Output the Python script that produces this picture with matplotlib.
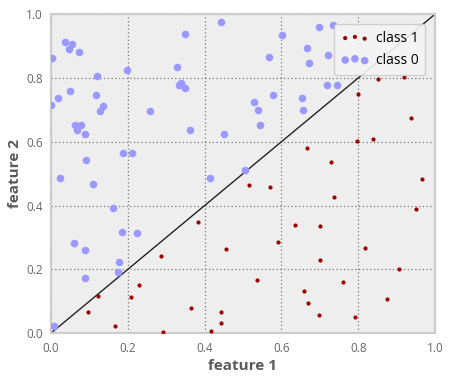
import matplotlib
matplotlib.use("Agg")
import matplotlib.pyplot as plt

class0_x = [0.004, 0.036, 0.055, 0.048, 0.072, 0.119, 0.199, 0.327, 0.350, 0.444,
            0.339, 0.334, 0.348, 0.000, 0.018, 0.050, 0.117, 0.136, 0.128, 0.257,
            0.063, 0.078, 0.068, 0.089, 0.363, 0.451, 0.188, 0.212, 0.091, 0.024,
            0.109, 0.414,
            0.602, 0.698, 0.733, 0.567, 0.666, 0.672, 0.720, 0.719, 0.745, 0.577,
            0.528, 0.539, 0.653, 0.655, 0.543, 0.504,
            0.162, 0.186, 0.225, 0.060, 0.088, 0.178, 0.175, 0.089, 0.009]
class0_y = [0.862, 0.914, 0.907, 0.890, 0.881, 0.806, 0.825, 0.835, 0.937, 0.974,
            0.785, 0.777, 0.767, 0.716, 0.736, 0.760, 0.746, 0.713, 0.695, 0.697,
            0.653, 0.653, 0.636, 0.625, 0.638, 0.625, 0.566, 0.566, 0.543, 0.485,
            0.468, 0.485,
            0.935, 0.961, 0.966, 0.865, 0.893, 0.848, 0.871, 0.777, 0.777, 0.746,
            0.723, 0.699, 0.736, 0.699, 0.653, 0.511,
            0.393, 0.317, 0.315, 0.284, 0.261, 0.222, 0.193, 0.173, 0.024]

class1_x = [0.851, 0.919, 0.799, 0.937, 0.797, 0.838, 0.666, 0.730, 0.966, 0.516,
            0.569,
            0.382, 0.455, 0.287, 0.229, 0.123, 0.208, 0.097, 0.365, 0.167, 0.292,
            0.443, 0.443, 0.416,
            0.737, 0.951, 0.635, 0.700, 0.590, 0.700, 0.818, 0.906, 0.536, 0.759,
            0.659, 0.669, 0.874, 0.698, 0.792]
class1_y = [0.795, 0.803, 0.748, 0.674, 0.602, 0.608, 0.581, 0.537, 0.483, 0.465,
            0.458,
            0.349, 0.263, 0.243, 0.152, 0.117, 0.114, 0.067, 0.080, 0.024, 0.003,
            0.067, 0.031, 0.008,
            0.426, 0.389, 0.338, 0.335, 0.287, 0.230, 0.266, 0.200, 0.168, 0.161,
            0.132, 0.096, 0.106, 0.057, 0.050]

boundary_x = [0.0, 1.0]
boundary_y = [0.0, 1.0]
ticks = [0.0, 0.2, 0.4, 0.6, 0.8, 1.0]
tick_labels = ["0.0", "0.2", "0.4", "0.6", "0.8", "1.0"]

plt.rcParams['font.family'] = ['Open Sans', 'DejaVu Sans']

fig = plt.figure(figsize=(4.5, 3.8), dpi=100)
ax = fig.add_axes([0.113, 0.123, 0.854, 0.840])
ax.set_facecolor("#EEEEEE")

ax.scatter(class1_x, class1_y, s=9, color="#990000", label="class 1", zorder=3, linewidths=0)
ax.scatter(class0_x, class0_y, s=30, color="#9999FF", label="class 0", zorder=3, linewidths=0)
ax.plot(boundary_x, boundary_y, color="#222222", lw=1.0, zorder=2)

ax.set_xlim(0, 1)
ax.set_ylim(0, 1)
ax.set_xticks(ticks)
ax.set_xticklabels(tick_labels)
ax.set_yticks(ticks)
ax.set_yticklabels(tick_labels)
ax.tick_params(length=0, labelsize=8.5, labelcolor="#666666", pad=6)
ax.grid(True, linestyle=(0, (1, 2)), color="#777777", lw=0.9)
ax.set_axisbelow(True)
for sp in ax.spines.values():
    sp.set_color("#CCCCCC")
    sp.set_linewidth(1.5)

ax.set_xlabel("feature 1", fontsize=11, fontweight="bold", color="#5a5a5a", labelpad=3)
ax.set_ylabel("feature 2", fontsize=11, fontweight="bold", color="#5a5a5a", labelpad=3)

leg = ax.legend(loc="upper right", scatterpoints=3, fontsize=10, frameon=True,
                handletextpad=0.5, borderpad=0.5, borderaxespad=0.7)
leg.get_frame().set_facecolor("#F4F4F4")
leg.get_frame().set_edgecolor("#CCCCCC")
leg.get_frame().set_alpha(0.9)

fig.savefig("out.png", dpi=100)
